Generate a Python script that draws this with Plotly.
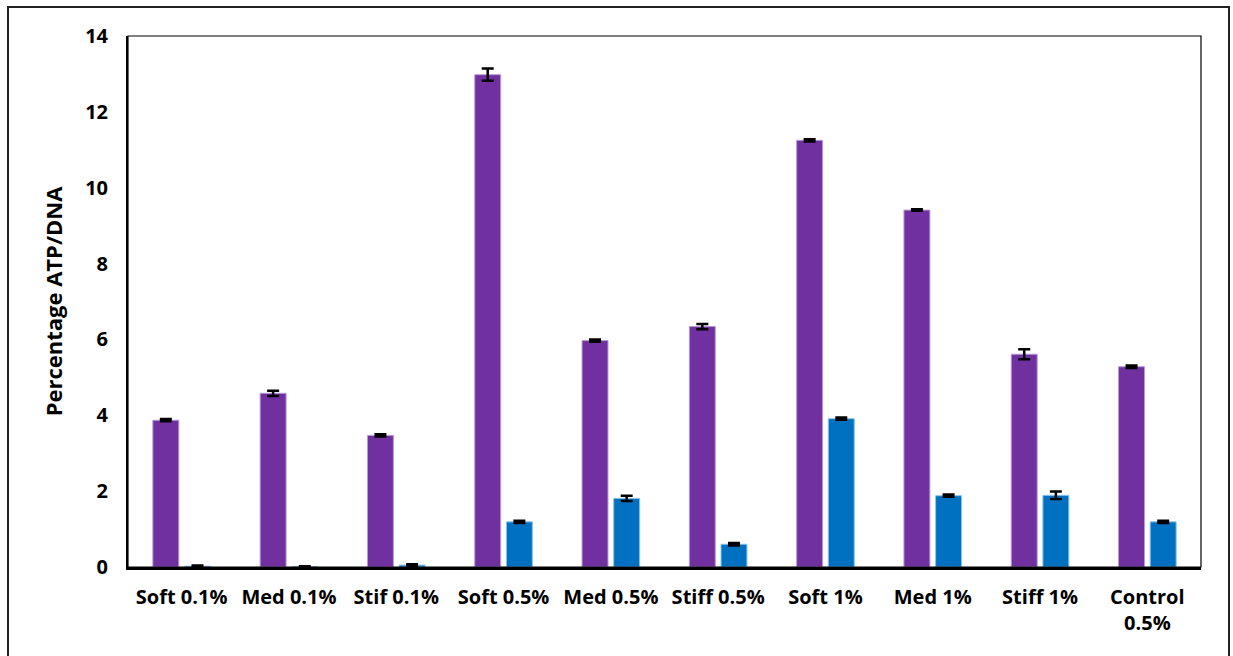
import plotly.graph_objects as go

# Categories and measured values
categories = ["Soft 0.1%", "Med 0.1%", "Stif 0.1%", "Soft 0.5%", "Med 0.5%",
              "Stiff 0.5%", "Soft 1%", "Med 1%", "Stiff 1%", "Control<br>0.5%"]
purple_vals = [3.87, 4.58, 3.47, 12.98, 5.97, 6.34, 11.25, 9.41, 5.61, 5.28]
purple_err = [0.03, 0.07, 0.03, 0.16, 0.03, 0.07, 0.03, 0.02, 0.13, 0.03]
blue_vals = [0.02, 0.01, 0.05, 1.19, 1.81, 0.60, 3.91, 1.88, 1.89, 1.19]
blue_err = [0.02, 0.01, 0.02, 0.03, 0.07, 0.03, 0.03, 0.03, 0.10, 0.03]
y_ticks = [0, 2, 4, 6, 8, 10, 12, 14]

FONT = "Open Sans"
W, H = 1233, 656
ML, MR, MT, MB = 128, 32, 36, 89
pw, ph = W - ML - MR, H - MT - MB

fig = go.Figure()

err_style = dict(type="data", visible=True, color="black", thickness=2.5, width=6)

fig.add_trace(go.Bar(
    x=categories, y=purple_vals,
    error_y=dict(array=purple_err, **err_style),
    marker=dict(color="#7030A0", line=dict(color="#B89BD3", width=1)),
    showlegend=False,
))
fig.add_trace(go.Bar(
    x=categories, y=blue_vals,
    error_y=dict(array=blue_err, **err_style),
    marker=dict(color="#0070C0", line=dict(color="#8CC4EA", width=1)),
    showlegend=False,
))

# Plot-area frame (thin) and outer figure border
shapes = [
    dict(type="rect", xref="paper", yref="paper", x0=0, x1=1, y0=0, y1=1,
         line=dict(color="black", width=1.2), layer="above"),
    dict(type="rect", xref="paper", yref="paper",
         x0=(8 - ML) / pw, x1=(1229 - ML) / pw,
         y0=(MT + ph - 670) / ph, y1=(MT + ph - 7) / ph,
         line=dict(color="#222222", width=2), layer="above"),
]

fig.update_layout(
    width=W, height=H,
    margin=dict(l=ML, r=MR, t=MT, b=MB),
    paper_bgcolor="white", plot_bgcolor="white",
    barmode="group", bargap=0.41, bargroupgap=0.18,
    font=dict(family=FONT, size=20, color="black"),
    shapes=shapes,
    xaxis=dict(
        showline=True, linecolor="black", linewidth=2.5,
        showgrid=False, ticks="", tickfont=dict(family=FONT, size=20, weight="bold"),
        ticklabelstandoff=10,
    ),
    yaxis=dict(
        range=[0, 14], tickvals=y_ticks, ticktext=[str(v) for v in y_ticks],
        showline=True, linecolor="black", linewidth=2,
        showgrid=False, zeroline=False, ticks="",
        tickfont=dict(family=FONT, size=20, weight="bold"),
        ticklabelstandoff=14,
        title=dict(text="Percentage ATP/DNA", standoff=16,
                   font=dict(family=FONT, size=22, weight="bold")),
    ),
)

fig.write_html("out.html")
